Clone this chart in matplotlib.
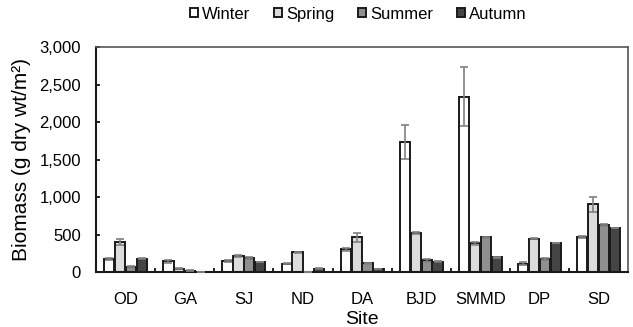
import numpy as np
import matplotlib
matplotlib.use("Agg")
import matplotlib.pyplot as plt
from matplotlib.ticker import FuncFormatter

plt.rcParams["font.family"] = ["Liberation Sans", "DejaVu Sans"]

sites = ["OD", "GA", "SJ", "ND", "DA", "BJD", "SMMD", "DP", "SD"]
seasons = ["Winter", "Spring", "Summer", "Autumn"]

winter = [180, 150, 150, 118, 305, 1740, 2340, 118, 472]
spring = [405, 48, 215, 268, 465, 525, 385, 450, 905]
summer = [76, 22, 190, 6, 122, 162, 465, 180, 632]
autumn = [180, 2, 138, 48, 45, 145, 200, 392, 592]

winter_err = [12, 20, 10, 12, 25, 225, 390, 18, 12]
spring_err = [40, 6, 12, 10, 60, 18, 15, 8, 105]
summer_err = [10, 5, 10, 0, 8, 18, 10, 12, 8]
autumn_err = [5, 0, 5, 4, 4, 5, 5, 5, 5]

colors = ["#ffffff", "#dcdcdc", "#8f8f8f", "#454545"]

values = [winter, spring, summer, autumn]
errors = [winter_err, spring_err, summer_err, autumn_err]

fig = plt.figure(figsize=(6.33, 3.27), dpi=100)
ax = fig.add_axes([0.152, 0.167, 0.840, 0.689])

x = np.arange(len(sites)) + 0.5
w = 0.185
for i, (vals, errs) in enumerate(zip(values, errors)):
    pos = x + (i - 1.5) * w
    ax.bar(pos, vals, width=w * 0.93, color=colors[i], edgecolor="#1a1a1a",
           linewidth=1.4, label=seasons[i], zorder=2)
    ax.errorbar(pos, vals, yerr=errs, fmt="none", ecolor="#808080",
                elinewidth=1.2, capsize=3, capthick=1.2, zorder=3)

ax.set_xlim(0, len(sites))
ax.set_ylim(0, 3000)
ax.set_yticks(np.arange(0, 3001, 500))
ax.yaxis.set_major_formatter(FuncFormatter(lambda v, p: f"{int(v):,}"))
ax.set_xticks(np.arange(1, len(sites)))
ax.set_xticklabels([])
ax.set_xticks(x, minor=True)
ax.set_xticklabels(sites, minor=True)
ax.tick_params(axis="x", which="major", direction="in", length=3, width=1.2)
ax.tick_params(axis="x", which="minor", length=0, labelsize=12, pad=14)
ax.tick_params(axis="y", direction="in", length=3, width=1.2, labelsize=12, pad=11)

for side in ["top", "right"]:
    ax.spines[side].set_color("#555555")
    ax.spines[side].set_linewidth(1.2)
for side in ["left", "bottom"]:
    ax.spines[side].set_color("#1a1a1a")
    ax.spines[side].set_linewidth(1.5)

ax.set_xlabel("Site", fontsize=14, labelpad=3)
ax.set_ylabel("Biomass (g dry wt/m²)", fontsize=15, labelpad=6)

fig.legend(loc="upper center", bbox_to_anchor=(0.566, 1.025), ncol=4, frameon=False,
           fontsize=12, handlelength=0.5, handleheight=0.45, handletextpad=0.25,
           columnspacing=1.4)

fig.savefig("out.png", dpi=100)
